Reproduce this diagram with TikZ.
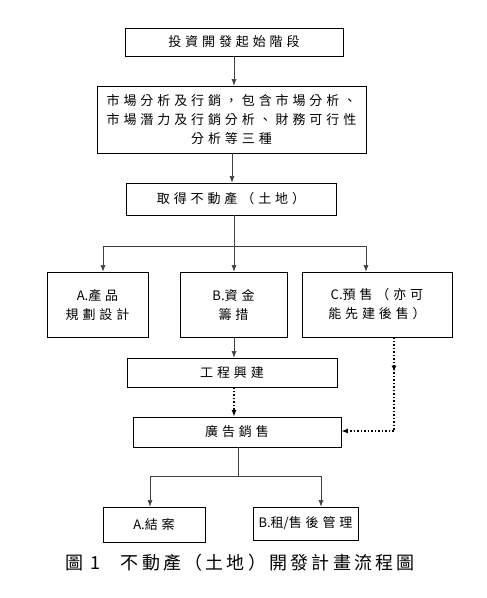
\documentclass[tikz,border=0pt]{standalone}
\usepackage{fontspec}
\usepackage{xcolor}
\usepackage{tikz}
\usetikzlibrary{shapes,arrows,arrows.meta}
\newfontfamily\cjk[LetterSpace=30]{Noto Sans CJK TC}
\newfontfamily\cjkcap[LetterSpace=18]{Noto Sans CJK TC}
\newfontfamily\cjklat{Noto Sans CJK TC}
\newcommand{\lat}[1]{{\cjklat #1}}
\definecolor{trait}{gray}{0.25}
\begin{document}
\begin{tikzpicture}[x=1pt,y=1pt]
			\tikzset{boite/.style={draw=black, thick, inner sep=0pt, align=center, font=\cjk\fontsize{13}{19}\selectfont},
				fleche/.style={->, >={Latex[length=6.5pt,width=5pt]}, semithick, color=trait},
				flecheP/.style={->, >={Latex[length=6.5pt,width=5pt]}, line width=1.5pt, dotted, color=black}};
			\useasboundingbox (0,0) rectangle (487,-598);
			\node[boite, minimum width=218, minimum height=28] (debut) at (234,-42) {投資開發起始階段};
			\node[boite, minimum width=269, minimum height=67] (marche) at (231.5,-119.5) {市場分析及行銷，包含市場分析、\\市場潛力及行銷分析、財務可行性\\分析等三種};
			\node[boite, minimum width=210, minimum height=32] (terrain) at (231,-199) {取得不動產（土地）};
			\node[boite, minimum width=101, minimum height=65] (prodA) at (97.5,-304.5) {\lat{A.}產品\\規劃設計};
			\node[boite, minimum width=107, minimum height=65] (fondsB) at (233.5,-304.5) {\lat{B.}資金\\籌措};
			\node[boite, minimum width=150, minimum height=65] (venteC) at (377,-304.5) {\lat{C.}預售（亦可\\能先建後售）};
			\node[boite, minimum width=210, minimum height=29] (chantier) at (232,-372.5) {工程興建};
			\node[boite, minimum width=208, minimum height=30] (pub) at (237,-432) {廣告銷售};
			\node[boite, minimum width=102, minimum height=35] (finA) at (154,-524.5) {\lat{A.}結案};
			\node[boite, minimum width=105, minimum height=33] (gestB) at (305.5,-523.5) {\lat{B.}租\lat{/}售後管理};
			\node[font=\cjkcap\fontsize{18}{20}\selectfont, anchor=west] (legende) at (62,-563) {圖 1\hspace{20pt}不動產（土地）開發計畫流程圖};
			\draw[fleche] (debut.south) -- (debut.south |- marche.north);
			\draw[fleche] (marche.south -| 232,0) -- (terrain.north -| 232,0);
			\coordinate (partage) at (234,-246);
			\draw[fleche] (terrain.south -| partage) -- (fondsB.north -| partage);
			\draw[color=trait, semithick] (103,-246) -- (366,-246);
			\draw[fleche] (103,-246) -- (prodA.north -| 103,0);
			\draw[fleche] (366,-246) -- (venteC.north -| 366,0);
			\draw[fleche] (fondsB.south -| partage) -- (chantier.north -| partage);
			\draw[flecheP] (chantier.south -| partage) -- (pub.north -| partage);
			\coordinate (coude) at (394,-431);
			\draw[flecheP] (venteC.south -| coude) -- (394,-372);
			\draw[flecheP] (394,-372) -- (coude) -- (coude -| pub.east);
			\coordinate (fourche) at (238,-476);
			\draw[color=trait, semithick] (pub.south -| fourche) -- (fourche);
			\draw[color=trait, semithick] (150,-476) -- (321,-476);
			\draw[fleche] (150,-476) -- (finA.north -| 150,0);
			\draw[fleche] (321,-476) -- (gestB.north -| 321,0);
\end{tikzpicture}
\end{document}
